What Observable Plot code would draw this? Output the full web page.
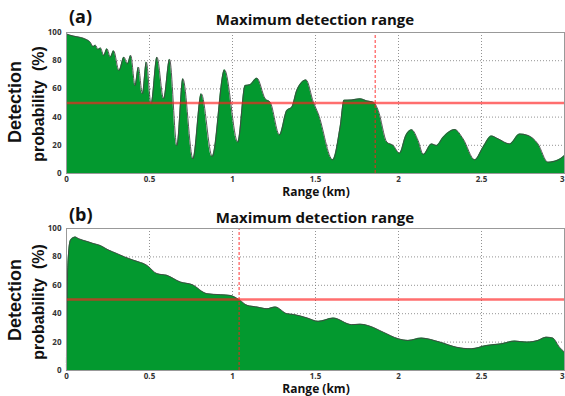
<!DOCTYPE html>
<html>
<head>
<meta charset="utf-8">
<script src="https://cdn.jsdelivr.net/npm/d3@7"></script>
<script src="https://cdn.jsdelivr.net/npm/@observablehq/plot@0.6"></script>
<style>
  html, body { margin: 0; padding: 0; background: #fff; }
  #fig { position: relative; width: 565px; height: 396px; overflow: hidden; font-family: "Open Sans", "Liberation Sans", sans-serif; color: #111; }
  .abs { position: absolute; white-space: pre; }
  .tag { font-size: 18px; font-weight: bold; }
  .title { font-size: 15px; font-weight: bold; transform: translate(-50%, -50%); }
  .xlab { font-size: 12px; font-weight: bold; line-height: 12px; transform: translate(-50%, -50%); }
  .ylab1 { font-family: "Liberation Sans", sans-serif; font-size: 18px; font-weight: bold; transform: translate(-50%, -50%) rotate(-90deg); }
  .ylab2 { font-family: "Liberation Sans", sans-serif; font-size: 16px; font-weight: bold; transform: translate(-50%, -50%) rotate(-90deg); }
</style>
</head>
<body>
<div id="fig"></div>
<script>
// Panel (a): detection probability vs range
const rangeA = [0, 0.04, 0.084, 0.12, 0.144, 0.16, 0.174, 0.19, 0.205, 0.224, 0.244, 0.264, 0.284, 0.316, 0.346, 0.367, 0.387,
  0.413, 0.433, 0.457, 0.481, 0.509, 0.545, 0.585, 0.621, 0.665, 0.701, 0.762, 0.812, 0.878, 0.952, 1.032, 1.076, 1.105,
  1.147, 1.197, 1.227, 1.283, 1.327, 1.357, 1.387, 1.443, 1.487, 1.517, 1.604, 1.648, 1.672, 1.72, 1.768, 1.81, 1.85,
  1.878, 1.93, 1.968, 2.006, 2.044, 2.079, 2.118, 2.149, 2.199, 2.229, 2.269, 2.339, 2.389, 2.459, 2.509, 2.56, 2.6,
  2.67, 2.73, 2.78, 2.84, 2.9, 2.96, 3.0];
const probA = [99, 97.5, 96.5, 95, 93, 90, 91, 88, 89, 83.7, 88.4, 82.5, 87, 73, 82.5, 77.8, 83.7,
  62.4, 75.4, 56.5, 79, 49.4, 82.5, 53, 81, 19.9, 67.2, 10.4, 56.5, 12, 73.5, 22.2, 62.4, 63,
  67.6, 53, 50.6, 27.4, 44.7, 47, 58.9, 66.4, 50.6, 42.3, 9.7, 32.8, 52, 52.2, 53, 51.5, 50.5,
  44.7, 22.2, 19.9, 14.4, 27, 31, 23.4, 13.5, 21, 19.9, 25.7, 31.2, 24.6, 9.7, 18.7, 26.6, 24.6,
  21, 28, 27, 21, 8, 9.5, 12.8];
const maxRangeA = 1.86;

// Panel (b): detection probability vs range
const rangeB = [0, 0.005, 0.012, 0.024, 0.054, 0.07, 0.12, 0.16, 0.204, 0.25, 0.305, 0.35, 0.405, 0.485, 0.545, 0.605,
  0.686, 0.756, 0.846, 0.926, 0.986, 1.04, 1.088, 1.148, 1.208, 1.258, 1.328, 1.367, 1.45, 1.517, 1.607, 1.718, 1.77, 1.828,
  1.908, 1.998, 2.058, 2.139, 2.249, 2.349, 2.439, 2.53, 2.62, 2.7, 2.77, 2.84, 2.89, 2.93, 2.97, 3.0];
const probB = [0, 60, 82, 91.7, 94, 93, 91, 89.5, 88, 85, 82.3, 80, 77.6, 74, 68.2, 67,
  62.3, 60.5, 54.1, 53.4, 52.9, 49.9, 45.9, 44.7, 43.5, 44.7, 40, 39.5, 37, 34.6, 36.9, 32.3, 32.6, 31.2,
  27, 22.4, 21.2, 22.8, 20, 16.4, 15.3, 17.6, 18.8, 20.7, 20, 21.2, 23.5, 22.8, 16.4, 12.9];
const maxRangeB = 1.04;

const threshold = 50;
const xTicks = [0, 0.5, 1, 1.5, 2, 2.5, 3];
const yTicks = [0, 20, 40, 60, 80, 100];
const panelTags = ["(a)", "(b)"];
const panelTitle = "Maximum detection range";
const xLabel = "Range (km)";
const yLabel1 = "Detection";
const yLabel2 = "probability  (%)";

const fig = document.getElementById("fig");

function addText(cls, text, left, top) {
  const d = document.createElement("div");
  d.className = "abs " + cls;
  d.textContent = text;
  d.style.left = left + "px";
  d.style.top = top + "px";
  fig.appendChild(d);
  return d;
}

function panel(xs, ys, maxRange, top, height, marginBottom) {
  const data = xs.map((x, i) => ({x, y: ys[i]}));
  const axisStyle = {tickSize: 0, tickPadding: 3, tickFormat: d => String(d), label: null};
  const chart = Plot.plot({
    width: 565,
    height,
    marginLeft: 66,
    marginRight: 1,
    marginTop: 10,
    marginBottom,
    style: {fontFamily: "Open Sans, sans-serif", fontWeight: "bold", fontSize: "8px", color: "#333", background: "transparent"},
    x: {domain: [0, 3]},
    y: {domain: [0, 100], ticks: yTicks, tickSize: 0, tickPadding: 5, label: null},
    marks: [
      Plot.ruleX(xTicks.slice(1, -1), {stroke: "#777", strokeDasharray: "1,2", strokeWidth: 0.8}),
      Plot.ruleY(yTicks.slice(1, -1), {stroke: "#777", strokeDasharray: "1,2", strokeWidth: 0.8}),
      Plot.areaY(data, {x: "x", y: "y", fill: "#03992f", curve: "monotone-x"}),
      Plot.line(data, {x: "x", y: "y", stroke: "#444", strokeWidth: 0.9, curve: "monotone-x"}),
      Plot.ruleY([threshold], {stroke: "#ff2020", strokeOpacity: 0.65, strokeWidth: 2.5}),
      Plot.ruleX([maxRange], {y1: 0, y2: 100, stroke: "#ff2020", strokeOpacity: 0.6, strokeWidth: 1.5, strokeDasharray: "3,2"}),
      Plot.axisX(xTicks.slice(0, -1), axisStyle),
      Plot.axisX(xTicks.slice(-1), {...axisStyle, textAnchor: "end"}),
      Plot.frame({stroke: "#999"})
    ]
  });
  const wrap = document.createElement("div");
  wrap.className = "abs";
  wrap.style.left = "0px";
  wrap.style.top = top + "px";
  wrap.appendChild(chart);
  fig.appendChild(wrap);
}

panel(rangeA, probA, maxRangeA, 22, 178, 27);
panel(rangeB, probB, maxRangeB, 218, 178, 26);

// Titles, tags and axis labels
addText("tag", panelTags[0], 69, 4);
addText("title", panelTitle, 315, 19);
addText("xlab", xLabel, 316, 192);
addText("ylab1", yLabel1, 15, 102);
addText("ylab2", yLabel2, 39, 104);

addText("tag", panelTags[1], 69, 202);
addText("title", panelTitle, 315, 217);
addText("xlab", xLabel, 316, 389);
addText("ylab1", yLabel1, 15, 300);
addText("ylab2", yLabel2, 39, 302);
</script>
</body>
</html>
